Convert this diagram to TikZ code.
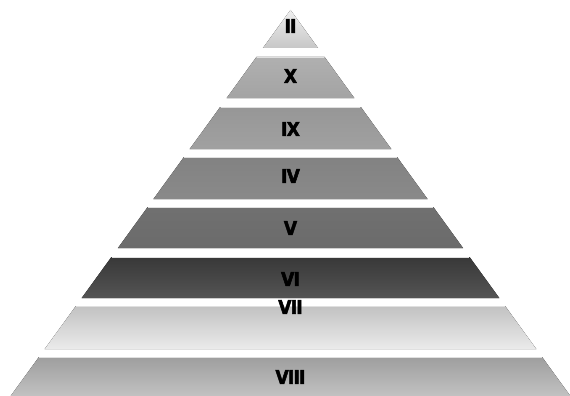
\documentclass[tikz,border=0pt]{standalone}
\usepackage{fontspec}
\newfontfamily\labfont{DejaVu Sans Bold}[FakeBold=2.6,FakeStretch=0.9,LetterSpace=-4]
\tikzset{
  lbl/.style={font=\labfont\fontsize{19}{19}\selectfont, inner sep=0pt, text=black},
  rim/.style={draw=black!12, line width=0.8pt}
}
\begin{document}
\begin{tikzpicture}[x=1pt,y=-1pt]
\useasboundingbox (0,0) rectangle (570,396);
\foreach \ya/\yb/\ct/\cb/\t/\ly/\n in {
  10/48/black!6/black!22/II/26/l1,
  57/98/black!31/black!36/X/76/l2,
  107/149/black!41/black!37/IX/129/l3,
  157/199/black!49/black!46/IV/176/l4,
  207/248/black!56/black!58/V/228/l5,
  257/298/black!78/black!67/VI/279/l6,
  306/349/black!24/black!8/VII/307/l7,
  357/396/black!38/black!24/VIII/377/l8} {
  \fill[top color=\ct, bottom color=\cb]
    ({290.5-0.725*(\ya-10)},\ya) -- ({290.5+0.725*(\ya-10)},\ya) --
    ({290.5+0.725*(\yb-10)},\yb) -- ({290.5-0.725*(\yb-10)},\yb) -- cycle;
  \draw[rim] ({290.5-0.725*(\ya-10)+0.5},\ya) -- ({290.5+0.725*(\ya-10)-0.5},\ya);
  \node[lbl] (\n) at (290.5,\ly) {\t};
}
\end{tikzpicture}
\end{document}
